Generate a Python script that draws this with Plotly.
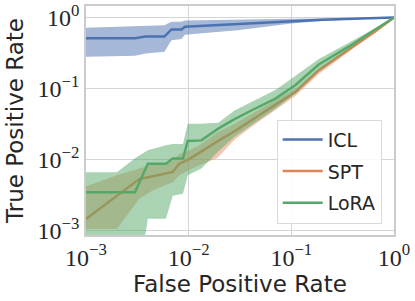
import plotly.graph_objects as go

# ---------------- data ----------------
series_names = ["ICL", "SPT", "LoRA"]

fpr_icl = [0.001, 0.003, 0.0038, 0.0058, 0.0068, 0.0085, 0.0092, 0.013, 0.02, 0.03, 0.05, 0.1, 0.2, 0.4, 1.0]
tpr_icl = [0.51, 0.51, 0.54, 0.54, 0.68, 0.68, 0.74, 0.76, 0.79, 0.82, 0.85, 0.89, 0.93, 0.96, 1.0]
lo_icl = [0.28, 0.29, 0.31, 0.33, 0.48, 0.50, 0.57, 0.60, 0.63, 0.66, 0.72, 0.82, 0.89, 0.94, 1.0]
hi_icl = [0.72, 0.76, 0.77, 0.78, 0.87, 0.87, 0.91, 0.92, 0.92, 0.93, 0.95, 0.96, 0.97, 0.985, 1.0]

fpr_spt = [0.001, 0.002, 0.0033, 0.0045, 0.0058, 0.007, 0.0081, 0.0102, 0.0128, 0.019, 0.028, 0.041,
           0.07, 0.11, 0.185, 0.39, 0.65, 1.0]
tpr_spt = [0.00145, 0.0031, 0.0053, 0.0058, 0.0063, 0.0067, 0.0087, 0.0102, 0.0125, 0.018, 0.025, 0.036,
           0.059, 0.089, 0.18, 0.38, 0.63, 1.0]
lo_spt = [0.00105, 0.00105, 0.0028, 0.0037, 0.0043, 0.0048, 0.006, 0.0072, 0.0083, 0.0105, 0.019, 0.029,
          0.05, 0.079, 0.16, 0.355, 0.61, 1.0]
hi_spt = [0.0042, 0.006, 0.0075, 0.0085, 0.009, 0.0095, 0.012, 0.0135, 0.016, 0.024, 0.032, 0.044,
          0.069, 0.1, 0.195, 0.4, 0.65, 1.0]

fpr_lora = [0.001, 0.002, 0.003, 0.004, 0.006, 0.007, 0.0088, 0.0098, 0.0133, 0.0194, 0.028, 0.0412,
            0.07, 0.109, 0.185, 0.394, 0.65, 1.0]
tpr_lora = [0.00347, 0.00347, 0.00347, 0.0087, 0.0087, 0.0103, 0.0103, 0.0183, 0.0186, 0.0272, 0.037, 0.0494,
            0.0722, 0.111, 0.218, 0.42, 0.68, 1.0]
lo_lora = [0.0001, 0.0001, 0.0001, 0.00146, 0.00146, 0.0031, 0.0033, 0.006, 0.0075, 0.013, 0.021, 0.031,
           0.052, 0.085, 0.18, 0.38, 0.65, 1.0]
hi_lora = [0.0066, 0.0066, 0.0104, 0.0135, 0.0159, 0.0165, 0.0165, 0.032, 0.032, 0.033, 0.049, 0.065,
           0.095, 0.15, 0.26, 0.47, 0.71, 1.0]

tick_vals = [0.001, 0.01, 0.1, 1]
tick_text = ["10<sup>−3</sup>", "10<sup>−2</sup>", "10<sup>−1</sup>", "10<sup>0</sup>"]

colors = ["#4C72B0", "#DD8452", "#55A868"]
fills = ["rgba(76,114,176,0.5)", "rgba(221,132,82,0.45)", "rgba(85,168,104,0.5)"]

data = [
    (fpr_icl, tpr_icl, lo_icl, hi_icl),
    (fpr_spt, tpr_spt, lo_spt, hi_spt),
    (fpr_lora, tpr_lora, lo_lora, hi_lora),
]

fig = go.Figure()
for (x, y, lo, hi), name, c, fc in zip(data, series_names, colors, fills):
    fig.add_trace(go.Scatter(
        x=list(x) + list(x)[::-1], y=list(hi) + list(lo)[::-1],
        fill="toself", fillcolor=fc, line=dict(width=0), mode="lines",
        hoverinfo="skip", showlegend=False, legendgroup=name))
    fig.add_trace(go.Scatter(x=x, y=y, mode="lines", name=name, legendgroup=name,
                             line=dict(color=c, width=2.5)))

axis_common = dict(
    type="log", showgrid=True, gridcolor="#d5d5d5", gridwidth=1,
    showline=True, linecolor="#cccccc", linewidth=1.5, mirror=True,
    zeroline=False, ticks="", tickvals=tick_vals, ticktext=tick_text,
    automargin=False,
    tickfont=dict(family="Liberation Serif", size=24, color="#262626"),
)

fig.update_layout(
    width=415, height=301,
    margin=dict(l=86, r=21, t=6, b=66),
    paper_bgcolor="white", plot_bgcolor="white",
    xaxis=dict(axis_common, range=[-3, 0],
               title=dict(text="False Positive Rate", standoff=3,
                          font=dict(family="DejaVu Sans", size=23, color="#262626"))),
    yaxis=dict(axis_common, range=[-3.063, 0.162],
               title=dict(text="True Positive Rate", standoff=8,
                          font=dict(family="DejaVu Sans", size=23, color="#262626"))),
    legend=dict(x=0.96, y=0.05, xanchor="right", yanchor="bottom",
                bgcolor="rgba(255,255,255,0.85)", bordercolor="#d9d9d9", borderwidth=1,
                font=dict(family="DejaVu Sans", size=19, color="#262626"),
                tracegroupgap=4, itemwidth=40),
    showlegend=True,
)

fig.write_html("out.html", config={"displayModeBar": False},
               post_script="document.body.style.margin='0';document.body.style.overflow='hidden';")
